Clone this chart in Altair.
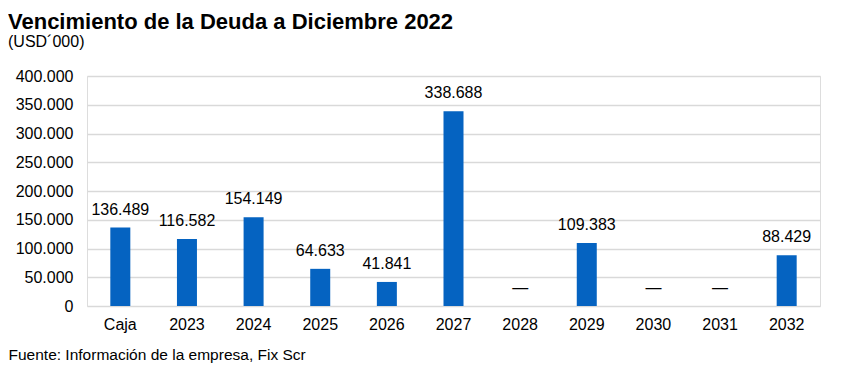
import altair as alt
import pandas as pd

categories = ["Caja", "2023", "2024", "2025", "2026", "2027", "2028", "2029", "2030", "2031", "2032"]
values = [136489, 116582, 154149, 64633, 41841, 338688, 0, 109383, 0, 0, 88429]
y_ticks = [0, 50000, 100000, 150000, 200000, 250000, 300000, 350000, 400000]

labels = [f"{v:,}".replace(",", ".") if v else "—" for v in values]
df = pd.DataFrame({"cat": categories, "value": values, "label": labels})

FONT = "Liberation Sans"
BLUE = "#0563C1"

x_enc = alt.X(
    "cat:N",
    sort=categories,
    title="Fuente: Información de la empresa, Fix Scr",
    axis=alt.Axis(
        labelAngle=0,
        labelFont=FONT,
        labelFontSize=16,
        labelColor="#000000",
        labelPadding=10,
        ticks=False,
        domain=False,
        titleFont=FONT,
        titleFontSize=15.5,
        titleFontWeight="normal",
        titleColor="#000000",
        titleX=-79,
        titleY=48,
        titleAlign="left",
        titleBaseline="middle",
        titleAngle=0,
    ),
)

y_enc = alt.Y(
    "value:Q",
    scale=alt.Scale(domain=[0, 400000], nice=False),
    title=None,
    axis=alt.Axis(
        values=y_ticks,
        labelExpr="replace(format(datum.value, ','), ',', '.')",
        labelFont=FONT,
        labelFontSize=16,
        labelColor="#000000",
        labelPadding=14,
        labelOverlap=False,
        ticks=False,
        domain=False,
        grid=True,
        gridColor="#d9d9d9",
        gridWidth=1.5,
    ),
)

base = alt.Chart(df)

bars = base.mark_bar(color=BLUE, size=20).encode(x=x_enc, y=y_enc)

text = base.mark_text(
    font=FONT, fontSize=16, color="#000000", baseline="middle", dy=-18
).encode(x=x_enc, y=y_enc, text="label:N")

chart = (
    alt.layer(bars, text)
    .properties(
        width=733,
        height=230,
        title=alt.TitleParams(
            text="Vencimiento de la Deuda a Diciembre 2022",
            subtitle="(USD´000)",
            anchor="start",
            frame="bounds",
            font=FONT,
            fontSize=22,
            fontWeight="bold",
            color="#000000",
            subtitleFont=FONT,
            subtitleFontSize=16,
            subtitleColor="#000000",
            subtitlePadding=0,
            offset=17,
        ),
        padding={"left": 0, "top": 3, "right": 5, "bottom": 0},
    )
    .configure_view(stroke=None)
    .configure(background="#ffffff")
)

chart.save("out.html", embed_options={"renderer": "svg", "actions": False})
